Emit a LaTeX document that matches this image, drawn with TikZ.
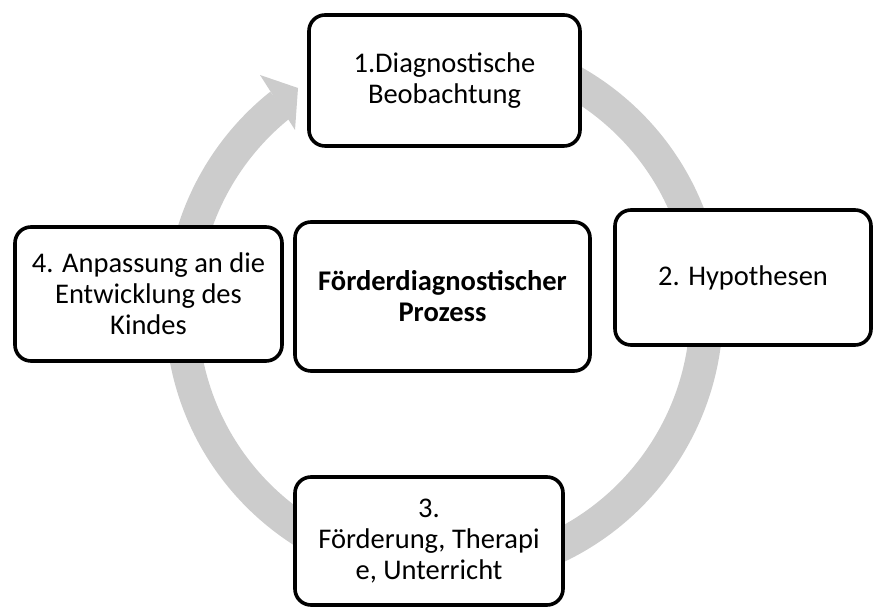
\documentclass[tikz,border=0pt]{standalone}
\usepackage{fontspec}
\setmainfont{Carlito}
\definecolor{ringgray}{RGB}{204,204,204}
\begin{document}
\begin{tikzpicture}[x=1pt,y=1pt,
  box/.style={draw=black, line width=3.6pt, fill=white, rounded corners=16pt,
    align=center, inner sep=0pt, font=\fontsize{28.5}{31}\selectfont},
  ring/.style={draw=ringgray, line width=33pt}
]
\useasboundingbox (0,0) rectangle (875,609);
% circular arrow
\coordinate (c) at (444,299);
\draw[ring] (c) ++(100:262.5) arc[start angle=100, end angle=-231.5, radius=262.5];
\fill[ringgray] (260,534) -- (298,521) -- (295,479) -- cycle;
% boxes
\node[box, minimum width=271pt, minimum height=131pt] (b1) at (444.5,528.5) {1.Diagnostische\\Beobachtung};
\node[box, minimum width=256pt, minimum height=135pt] (b2) at (743,331.5) {2. Hypothesen};
\node[box, minimum width=268pt, minimum height=128pt] (b3) at (429,68) {3.\\Förderung, Therapi\\e, Unterricht};
\node[box, minimum width=267pt, minimum height=134pt] (b4) at (148.5,315) {4. Anpassung an die\\Entwicklung des\\Kindes};
\node[box, minimum width=295pt, minimum height=149pt, font=\fontsize{28.5}{31}\selectfont\bfseries] (m) at (442.5,312.5) {Förderdiagnostischer\\Prozess};
\end{tikzpicture}
\end{document}
